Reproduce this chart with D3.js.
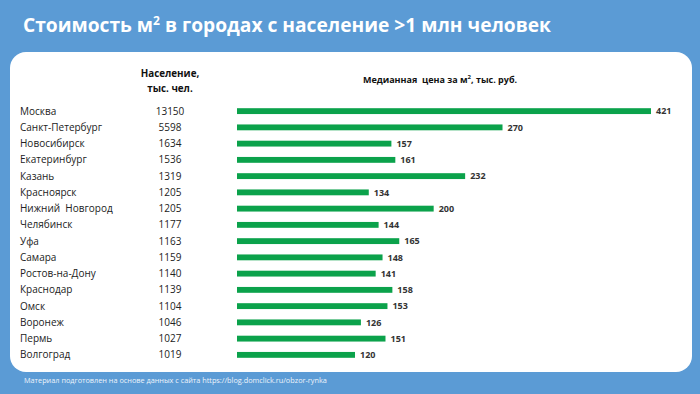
<!DOCTYPE html>
<html>
<head>
<meta charset="utf-8">
<script src="https://cdn.jsdelivr.net/npm/d3@7"></script>
<style>
  body { margin: 0; background: #5b9bd5; }
  svg { display: block; }
  text { white-space: pre; }
</style>
</head>
<body>
<div id="chart"></div>
<script>
var cities = ['Москва', 'Санкт-Петербург', 'Новосибирск', 'Екатеринбург', 'Казань', 'Красноярск',
  'Нижний  Новгород', 'Челябинск', 'Уфа', 'Самара', 'Ростов-на-Дону', 'Краснодар', 'Омск',
  'Воронеж', 'Пермь', 'Волгоград'];
var population = [13150, 5598, 1634, 1536, 1319, 1205, 1205, 1177, 1163, 1159, 1140, 1139, 1104, 1046, 1027, 1019];
var price = [421, 270, 157, 161, 232, 134, 200, 144, 165, 148, 141, 158, 153, 126, 151, 120];

var width = 700, height = 394;

var svg = d3.select('#chart')
  .append('svg')
  .attr('width', width)
  .attr('height', height);

svg.append('rect')
  .attr('width', width)
  .attr('height', height)
  .attr('fill', '#5b9bd5');

// white panel
svg.append('rect')
  .attr('x', 10)
  .attr('y', 52)
  .attr('width', 682)
  .attr('height', 320)
  .attr('rx', 16)
  .attr('fill', '#ffffff');

// title
var title = svg.append('text')
  .attr('x', 23)
  .attr('y', 32)
  .attr('fill', '#ffffff')
  .style('font-family', 'Open Sans, sans-serif')
  .style('font-weight', 'bold')
  .style('font-size', '19.2px');
title.append('tspan').text('Стоимость м');
title.append('tspan').attr('dy', -7).style('font-size', '12px').text('2');
title.append('tspan').attr('dy', 7).text(' в городах с население >1 млн человек');

var y = d3.scaleBand()
  .domain(cities)
  .range([103, 363])
  .paddingInner(0.64)
  .paddingOuter(0.32);

var x = d3.scaleLinear()
  .domain([0, 421])
  .range([237, 651]);

var font = 'Open Sans, sans-serif';

// headers
svg.append('text')
  .attr('x', 170).attr('y', 77)
  .attr('text-anchor', 'middle')
  .attr('fill', '#111')
  .style('font-family', font).style('font-weight', 'bold').style('font-size', '9.8px')
  .text('Население,');
svg.append('text')
  .attr('x', 170).attr('y', 92)
  .attr('text-anchor', 'middle')
  .attr('fill', '#111')
  .style('font-family', font).style('font-weight', 'bold').style('font-size', '9.8px')
  .text('тыс. чел.');

var head = svg.append('text')
  .attr('x', 440).attr('y', 83)
  .attr('text-anchor', 'middle')
  .attr('fill', '#111')
  .style('font-family', font).style('font-weight', 'bold').style('font-size', '9px');
head.append('tspan').text('Медианная  цена за м');
head.append('tspan').attr('dy', -4).style('font-size', '6px').text('2');
head.append('tspan').attr('dy', 4).text(', тыс. руб.');

var row = svg.selectAll('g.row')
  .data(cities).enter()
  .append('g')
  .attr('class', 'row')
  .attr('transform', function (d) {
    return 'translate(0,' + (y(d) + y.bandwidth() / 2) + ')';
  });

row.append('text')
  .attr('x', 20)
  .attr('dy', '0.35em')
  .attr('fill', '#222')
  .style('font-family', font).style('font-size', '10px')
  .text(function (d) { return d; });

row.append('text')
  .attr('x', 170)
  .attr('dy', '0.35em')
  .attr('text-anchor', 'middle')
  .attr('fill', '#222')
  .style('font-family', font).style('font-size', '10px')
  .text(function (d, i) { return population[i]; });

row.append('rect')
  .attr('x', x(0))
  .attr('y', -y.bandwidth() / 2)
  .attr('width', function (d, i) { return x(price[i]) - x(0); })
  .attr('height', y.bandwidth())
  .attr('fill', '#0ba24b');

row.append('text')
  .attr('x', function (d, i) { return x(price[i]) + 5; })
  .attr('dy', '0.35em')
  .attr('fill', '#333')
  .style('font-family', font).style('font-weight', 'bold').style('font-size', '9px')
  .text(function (d, i) { return price[i]; });

// footer
svg.append('text')
  .attr('x', 24).attr('y', 383)
  .attr('fill', '#eef4fb')
  .style('font-family', font).style('font-size', '7.3px')
  .text('Материал подготовлен на основе данных с сайта https://blog.domclick.ru/obzor-rynka');
</script>
</body>
</html>
